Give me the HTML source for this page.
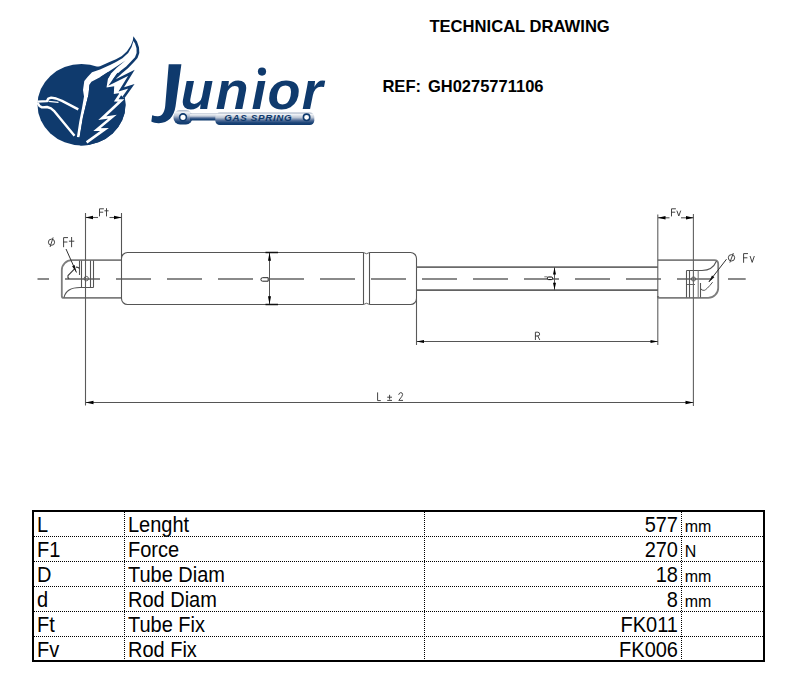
<!DOCTYPE html>
<html><head><meta charset="utf-8"><title>Technical Drawing</title>
<style>
html,body{margin:0;padding:0;background:#fff;}
body{width:803px;height:693px;overflow:hidden;font-family:"Liberation Sans",sans-serif;}
svg{display:block;}
</style></head>
<body>
<svg width="803" height="693" viewBox="0 0 803 693">
<rect width="803" height="693" fill="#fff"/>

<g id="logo">
  <clipPath id="ell"><ellipse cx="81.5" cy="104.7" rx="44" ry="40.7"/></clipPath>
  <ellipse cx="81.5" cy="104.7" rx="44" ry="40.7" fill="#0f3a6d"/>
  <!-- upper wing outline silhouette -->
  <path fill="#0f3a6d" d="M88,68.5 L100,66.3 L110,61.8 L116,59.2 L121.9,56 L127,51.3 L130.8,45.5 L132.8,40.5 L133.4,36.3 L137,41.5 L139,47.5 L139.3,53 L137.5,58 L134,62 L128,68.3 L122,73.2 L117.5,77.5 L112,84 L100,90 Z"/>
  <!-- white: upper band + body line + zigzag area -->
  <path fill="#fff" d="M76.9,137 L79.2,122 L82,108 L84,96.5 L83,90 L84.3,81 L88,76.5 L92,72.2 L100,69.6 L110,65.1 L116,61.9 L122.4,58.3 L128.2,53 L131.6,47 L133.4,41 L135,43.5 L136.5,48.3 L136.6,53.1 L135,57.2 L131.9,60.6 L126.2,66.4 L121,70.5 L116.5,74.5 L112.5,80 L136,68 L136,84 L124,99 L118,101 L100,100 L89.5,84.5 L88.5,94.5 L86.2,103.7 L82.9,117.5 L79.6,137.2 Z"/>
  <!-- navy wedge + lower mass (jagged right edge) -->
  <path fill="#0f3a6d" clip-path="url(#ell)" d="M125.5,60.5 L117,67.4 L111,73.6 L108,78.4 L106.5,87.6 L114.2,86.3 L113.8,93.9 L118.6,93.2 L121.4,95.6 L123.2,97.6 L130,100 L130,150 L80,150 L79.6,137.2 L82.9,117.5 L86.2,103.7 L88.5,94.5 L89.5,84.5 L91.4,81.8 L100,77.2 L110,70.8 L118,65.4 Z"/>
  <path fill="#0f3a6d" d="M125.5,60.5 L117,67.4 L111,73.6 L108,78.4 L100,77.2 L110,70.8 L118,65.4 Z"/>
  <!-- navy zigzag outline strokes -->
  <path fill="none" stroke="#0f3a6d" stroke-width="2.5" stroke-linejoin="miter" stroke-miterlimit="10"
     d="M118.5,73.5 L112.2,82.4 L131.4,72.9 L121.3,89.4 L131.4,86.2 L123.4,97.5"/>
  <!-- lightning bolt -->
  <path fill="none" stroke="#fff" stroke-width="2.6" stroke-linejoin="miter" stroke-miterlimit="10"
     d="M121.4,92.6 L116.3,100.3 L121.2,100.4 L102.2,118.2 L112.4,116.7 L97,129.6 L104.7,129.4 L86.6,142.4"/>
  <!-- bird head/neck -->
  <path fill="none" stroke="#fff" stroke-width="2.4" stroke-linejoin="round"
     d="M37.3,101.6 L47,101.1 L48.3,98.6 L51.2,97.6 L56,98.5 L62,100.9 L78.3,109.4"/>
  <path fill="none" stroke="#fff" stroke-width="2.4" stroke-linejoin="round"
     d="M37.6,102.8 L39.5,106 L42,107.4 L47,107 L51,108.4 L54.5,111.4 L74.5,135.8"/>
  <path fill="none" stroke="#fff" stroke-width="1.3" d="M48.5,101.3 L58.5,102.4"/>
</g>
<g id="junior" fill="#0f3a6d">
  <path d="M168.7,64.3 L181.4,64.3 L175.6,106 C174,117 168,123 159,123.2 C156,123.3 153.5,122.6 151.3,121.6 L152.2,115.3 C154,116 156,116.4 158,116.3 C162.5,116 164.5,112 165.2,106 Z"/>
  <text x="180.5 215.5 251.5 267.4 301.8" y="108.5" font-family="Liberation Sans" font-weight="bold" font-style="italic" font-size="54">un&#305;or</text>
  <circle cx="262" cy="71.6" r="4.1"/>
</g>
<defs>
  <linearGradient id="gs" x1="0" y1="0" x2="0" y2="1">
    <stop offset="0" stop-color="#a3b0c3"/>
    <stop offset="0.16" stop-color="#eef1f5"/>
    <stop offset="0.4" stop-color="#bcc6d5"/>
    <stop offset="0.62" stop-color="#55709a"/>
    <stop offset="0.82" stop-color="#1b4477"/>
    <stop offset="1" stop-color="#0f3a6d"/>
  </linearGradient>
</defs>
<g id="spring">
  <rect x="173.5" y="110" width="19" height="14.4" rx="6.5" fill="url(#gs)"/>
  <rect x="190" y="113.5" width="27" height="7" fill="url(#gs)"/>
  <rect x="215.3" y="112.5" width="99" height="12.6" rx="4.5" fill="url(#gs)"/>
  <circle cx="183" cy="117.3" r="3.4" fill="#fff" stroke="#0f3a6d" stroke-width="1.6"/>
  <circle cx="306.6" cy="117.3" r="3.2" fill="#fff" stroke="#0f3a6d" stroke-width="1.6"/>
  <text x="224.3" y="120.6" font-family="Liberation Sans" font-weight="bold" font-style="italic" font-size="9.8" letter-spacing="0.65" fill="#0f3a6d">GAS SPRING</text>
</g>
<text x="429.4" y="32.2" font-family="Liberation Sans" font-weight="bold" font-size="16.6" fill="#000">TECHNICAL DRAWING</text><text x="382.4" y="91.8" font-family="Liberation Sans" font-weight="bold" font-size="16.6" fill="#000">REF:</text><text x="427.9" y="91.8" font-family="Liberation Sans" font-weight="bold" font-size="16.5" fill="#000">GH0275771106</text><g id="drawing"><line x1="37.5" y1="279" x2="745.7" y2="279" stroke="#8a8a8a" stroke-width="2" stroke-dasharray="35 16" stroke-dashoffset="23.5"/>
<path d="M121.5,260.1 L71.8,260.1 A10,10 0 0 0 61.8,270.1 L61.8,295.9 Q61.8,297.9 63.8,297.9 L121.5,297.9" stroke="#7d7d7d" stroke-width="1.8" fill="none"/>
<path d="M64,297.5 C65.5,291 71,287.5 80,287.5 L93.5,287.5" stroke="#555555" stroke-width="1.1" fill="none"/>
<line x1="79.5" y1="260.5" x2="79.5" y2="275" stroke="#555555" stroke-width="1.1"/>
<line x1="81.5" y1="260.5" x2="81.5" y2="287.5" stroke="#555555" stroke-width="1.1"/>
<line x1="90.5" y1="260.5" x2="90.5" y2="287.5" stroke="#555555" stroke-width="1.1"/>
<line x1="93.5" y1="260.5" x2="93.5" y2="287.5" stroke="#555555" stroke-width="1.1"/>
<circle cx="86.3" cy="278.6" r="2.2" fill="none" stroke="#555555" stroke-width="0.9"/>
<path d="M69.2,278.7 Q67.3,277.6 68,275.6 L74.8,268.6" stroke="#3a3a3a" stroke-width="1.1" fill="none"/>
<path d="M75.8,267.2 Q78.4,266.9 79.3,268.6" stroke="#3a3a3a" stroke-width="1.1" fill="none"/>
<path d="M66,249 L76.5,272.5" stroke="#333" stroke-width="1" fill="none"/>
<path d="M76.20,272.00 L72.09,266.16 L74.65,265.03 Z" fill="#111"/>
<path d="M121.5,213 L121.5,298.5 A6,6 0 0 0 127.5,304.5 L363.5,304.5 M121.5,258.5 A6,6 0 0 1 127.5,252.5 L363.5,252.5" stroke="#555555" stroke-width="1.1" fill="none"/>
<line x1="363.5" y1="252.5" x2="363.5" y2="304.5" stroke="#555555" stroke-width="1.1"/>
<line x1="369.5" y1="252.5" x2="369.5" y2="304.5" stroke="#555555" stroke-width="1.1"/>
<path d="M363.5,252.5 Q366.5,255 369.5,252.5 M363.5,304.5 Q366.5,302 369.5,304.5" stroke="#555555" stroke-width="0.9" fill="none"/>
<path d="M369.5,252.5 L410.5,252.5 A6,6 0 0 1 416.5,258.5 L416.5,298.5 A6,6 0 0 1 410.5,304.5 L369.5,304.5" stroke="#555555" stroke-width="1.1" fill="none"/>
<line x1="416.5" y1="267.1" x2="658" y2="267.1" stroke="#6a6a6a" stroke-width="1.7"/>
<line x1="416.5" y1="290.1" x2="658" y2="290.1" stroke="#626262" stroke-width="1.7"/>
<path d="M657.8,260.1 L714.3,260.1 Q718.2,260.1 718.2,264 L718.2,287.9 A10,10 0 0 1 708.2,297.9 L660,297.9 Q657.8,297.9 657.8,295.9" stroke="#7d7d7d" stroke-width="1.8" fill="none"/>
<path d="M716.5,261 C714,267 709,270.5 702,270.5 L686.5,270.5" stroke="#555555" stroke-width="1.1" fill="none"/>
<line x1="686.5" y1="270.5" x2="686.5" y2="297.5" stroke="#555555" stroke-width="1.1"/>
<line x1="689.5" y1="270.5" x2="689.5" y2="297.5" stroke="#555555" stroke-width="1.1"/>
<line x1="698.2" y1="270.5" x2="698.2" y2="297.5" stroke="#7a7a7a" stroke-width="1.1"/>
<line x1="700.5" y1="283" x2="700.5" y2="297.5" stroke="#555555" stroke-width="1.1"/>
<line x1="686.5" y1="284.5" x2="695" y2="284.5" stroke="#555555" stroke-width="0.9"/>
<circle cx="693.5" cy="279" r="2.1" fill="none" stroke="#555555" stroke-width="0.9"/>
<path d="M700.6,288.3 Q701.2,290.6 704.2,290.4 Q706.5,289.8 712.6,282.2" stroke="#555555" stroke-width="1" fill="none"/>
<path d="M726.5,259.2 L708.8,282" stroke="#333" stroke-width="1" fill="none"/>
<path d="M708.80,282.00 L712.03,275.39 L714.40,277.23 Z" fill="#111"/>
<line x1="85.5" y1="213" x2="85.5" y2="405.5" stroke="#5a5a5a" stroke-width="1.1"/>
<line x1="693.4" y1="214" x2="693.4" y2="406" stroke="#606060" stroke-width="1.1"/>
<line x1="657.8" y1="214.5" x2="657.8" y2="345" stroke="#5e5e5e" stroke-width="1.1"/>
<line x1="416.5" y1="298" x2="416.5" y2="345" stroke="#5a5a5a" stroke-width="1.1"/>
<line x1="85.5" y1="217.5" x2="98" y2="217.5" stroke="#555555" stroke-width="1.1"/>
<line x1="109.5" y1="217.5" x2="121.5" y2="217.5" stroke="#555555" stroke-width="1.1"/>
<path d="M85.50,217.50 L93.00,215.70 L93.00,219.30 Z" fill="#000"/>
<path d="M121.50,217.50 L114.00,219.30 L114.00,215.70 Z" fill="#000"/>
<line x1="658" y1="217.8" x2="669.5" y2="217.8" stroke="#555555" stroke-width="1.1"/>
<line x1="681" y1="217.8" x2="693.5" y2="217.8" stroke="#555555" stroke-width="1.1"/>
<path d="M658.00,217.80 L665.50,216.00 L665.50,219.60 Z" fill="#000"/>
<path d="M693.50,217.80 L686.00,219.60 L686.00,216.00 Z" fill="#000"/>
<line x1="269.5" y1="252.5" x2="269.5" y2="304.5" stroke="#555555" stroke-width="1"/>
<path d="M269.50,252.80 L271.00,260.80 L268.00,260.80 Z" fill="#000"/>
<path d="M269.50,304.20 L268.00,296.20 L271.00,296.20 Z" fill="#000"/>
<line x1="265.5" y1="252.5" x2="278" y2="252.5" stroke="#111" stroke-width="1.5"/>
<line x1="265.5" y1="304.5" x2="278" y2="304.5" stroke="#111" stroke-width="1.5"/>
<line x1="554.5" y1="267" x2="554.5" y2="290.3" stroke="#555555" stroke-width="1"/>
<path d="M554.50,267.50 L556.00,274.50 L553.00,274.50 Z" fill="#000"/>
<path d="M554.50,289.80 L553.00,282.80 L556.00,282.80 Z" fill="#000"/>
<line x1="416.5" y1="341.5" x2="658" y2="341.5" stroke="#555555" stroke-width="1.1"/>
<path d="M416.50,341.50 L424.00,339.90 L424.00,343.10 Z" fill="#000"/>
<path d="M658.00,341.50 L650.50,343.10 L650.50,339.90 Z" fill="#000"/>
<line x1="85.5" y1="402.5" x2="693.5" y2="402.5" stroke="#555555" stroke-width="1.1"/>
<path d="M85.50,402.50 L93.50,400.80 L93.50,404.20 Z" fill="#000"/>
<path d="M693.50,402.50 L685.50,404.20 L685.50,400.80 Z" fill="#000"/>
<path d="M99.5,216 L99.5,208.8 L103.5,208.8 M99.5,212.2 L102.8,212.2 M106.5,208.6 L106.5,216 M104.8,210.8 L108.2,210.8" stroke="#3a3a3a" stroke-width="0.95" fill="none" stroke-linecap="round" stroke-linejoin="round"/>
<path d="M671.5,216 L671.5,208.8 L675.5,208.8 M671.5,212.2 L674.8,212.2 M677,211 L678.8,216 L680.6,211" stroke="#3a3a3a" stroke-width="0.95" fill="none" stroke-linecap="round" stroke-linejoin="round"/>
<ellipse cx="51.5" cy="242.2" rx="3.1" ry="3.1" stroke="#3a3a3a" stroke-width="0.95" fill="none"/>
<path d="M53,237.8 L50.2,246.6" stroke="#3a3a3a" stroke-width="0.95" fill="none" stroke-linecap="round" stroke-linejoin="round"/>
<path d="M63.6,246.8 L63.6,237.6 L67.6,237.6 M63.6,242 L67,242 M71.6,237.4 L71.6,246.8 M69.3,241.2 L73.9,241.2" stroke="#3a3a3a" stroke-width="0.95" fill="none" stroke-linecap="round" stroke-linejoin="round"/>
<ellipse cx="731.5" cy="257.8" rx="3.2" ry="3.2" stroke="#3a3a3a" stroke-width="0.95" fill="none"/>
<path d="M733.2,253.4 L730,262.2" stroke="#3a3a3a" stroke-width="0.95" fill="none" stroke-linecap="round" stroke-linejoin="round"/>
<path d="M743.6,262.4 L743.6,253.6 L747.6,253.6 M743.6,257.8 L747,257.8 M750.2,256.4 L752.2,262.4 L754.2,256.4" stroke="#3a3a3a" stroke-width="0.95" fill="none" stroke-linecap="round" stroke-linejoin="round"/>
<path d="M535.4,339.6 L535.4,332.2 L537.8,332.2 Q539.6,332.2 539.6,334.1 Q539.6,336 537.8,336 L535.4,336 M537.8,336 L539.6,339.6" stroke="#3a3a3a" stroke-width="0.95" fill="none" stroke-linecap="round" stroke-linejoin="round"/>
<path d="M377.6,392.8 L377.6,400.6 L380.4,400.6" stroke="#3a3a3a" stroke-width="0.95" fill="none" stroke-linecap="round" stroke-linejoin="round"/>
<path d="M387.6,397.2 L391.6,397.2 M389.6,395.2 L389.6,399.2 M387.6,400.4 L391.6,400.4" stroke="#3a3a3a" stroke-width="0.95" fill="none" stroke-linecap="round" stroke-linejoin="round"/>
<path d="M398.8,394.4 Q399.4,392.6 400.8,392.6 Q402.6,392.6 402.6,394.6 Q402.6,396 398.8,400.4 L402.6,400.4" stroke="#3a3a3a" stroke-width="0.95" fill="none" stroke-linecap="round" stroke-linejoin="round"/>
<path d="M268.2,277.7 L262.6,277.7 Q260.9,277.7 260.9,279.45 Q260.9,281.2 262.6,281.2 L268.2,281.2 Z" stroke="#222" stroke-width="1" fill="#fff"/>
<rect x="547.4" y="277" width="5.2" height="2.6" rx="1.2" stroke="#000" stroke-width="1" fill="#fff"/>
<path d="M544.3,276.8 L547.6,276.8" stroke="#555" stroke-width="0.8"/></g><g id="table"><line x1="34" y1="536.5" x2="764" y2="536.5" stroke="#000" stroke-width="1" stroke-dasharray="1 1"/>
<line x1="34" y1="561.5" x2="764" y2="561.5" stroke="#000" stroke-width="1" stroke-dasharray="1 1"/>
<line x1="34" y1="586.5" x2="764" y2="586.5" stroke="#000" stroke-width="1" stroke-dasharray="1 1"/>
<line x1="34" y1="611.5" x2="764" y2="611.5" stroke="#000" stroke-width="1" stroke-dasharray="1 1"/>
<line x1="34" y1="636.5" x2="764" y2="636.5" stroke="#000" stroke-width="1" stroke-dasharray="1 1"/>
<line x1="124.5" y1="512" x2="124.5" y2="661" stroke="#000" stroke-width="1" stroke-dasharray="1 1"/>
<line x1="424.5" y1="512" x2="424.5" y2="661" stroke="#000" stroke-width="1" stroke-dasharray="1 1"/>
<line x1="681.5" y1="512" x2="681.5" y2="661" stroke="#000" stroke-width="1" stroke-dasharray="1 1"/>
<rect x="33" y="511" width="731" height="150" fill="none" stroke="#000" stroke-width="2"/>
<g transform="translate(0,532) scale(1,1.07)"><text x="37" y="0" font-family="Liberation Sans" fill="#000" font-size="20">L</text><text x="128" y="0" font-family="Liberation Sans" fill="#000" font-size="20">Lenght</text><text x="678" y="0" font-family="Liberation Sans" fill="#000" font-size="20" text-anchor="end">577</text><text x="684.8" y="0" font-family="Liberation Sans" fill="#000" font-size="16" transform="scale(1,0.98)">mm</text></g>
<g transform="translate(0,557) scale(1,1.07)"><text x="37" y="0" font-family="Liberation Sans" fill="#000" font-size="20">F1</text><text x="128" y="0" font-family="Liberation Sans" fill="#000" font-size="20">Force</text><text x="678" y="0" font-family="Liberation Sans" fill="#000" font-size="20" text-anchor="end">270</text><text x="684.8" y="0" font-family="Liberation Sans" fill="#000" font-size="16" transform="scale(1,0.98)">N</text></g>
<g transform="translate(0,582) scale(1,1.07)"><text x="37" y="0" font-family="Liberation Sans" fill="#000" font-size="20">D</text><text x="128" y="0" font-family="Liberation Sans" fill="#000" font-size="20">Tube Diam</text><text x="678" y="0" font-family="Liberation Sans" fill="#000" font-size="20" text-anchor="end">18</text><text x="684.8" y="0" font-family="Liberation Sans" fill="#000" font-size="16" transform="scale(1,0.98)">mm</text></g>
<g transform="translate(0,607) scale(1,1.07)"><text x="37" y="0" font-family="Liberation Sans" fill="#000" font-size="20">d</text><text x="128" y="0" font-family="Liberation Sans" fill="#000" font-size="20">Rod Diam</text><text x="678" y="0" font-family="Liberation Sans" fill="#000" font-size="20" text-anchor="end">8</text><text x="684.8" y="0" font-family="Liberation Sans" fill="#000" font-size="16" transform="scale(1,0.98)">mm</text></g>
<g transform="translate(0,632) scale(1,1.07)"><text x="37" y="0" font-family="Liberation Sans" fill="#000" font-size="20">Ft</text><text x="128" y="0" font-family="Liberation Sans" fill="#000" font-size="20">Tube Fix</text><text x="678" y="0" font-family="Liberation Sans" fill="#000" font-size="20" text-anchor="end">FK011</text></g>
<g transform="translate(0,657) scale(1,1.07)"><text x="37" y="0" font-family="Liberation Sans" fill="#000" font-size="20">Fv</text><text x="128" y="0" font-family="Liberation Sans" fill="#000" font-size="20">Rod Fix</text><text x="678" y="0" font-family="Liberation Sans" fill="#000" font-size="20" text-anchor="end">FK006</text></g></g>
</svg>
</body></html>
